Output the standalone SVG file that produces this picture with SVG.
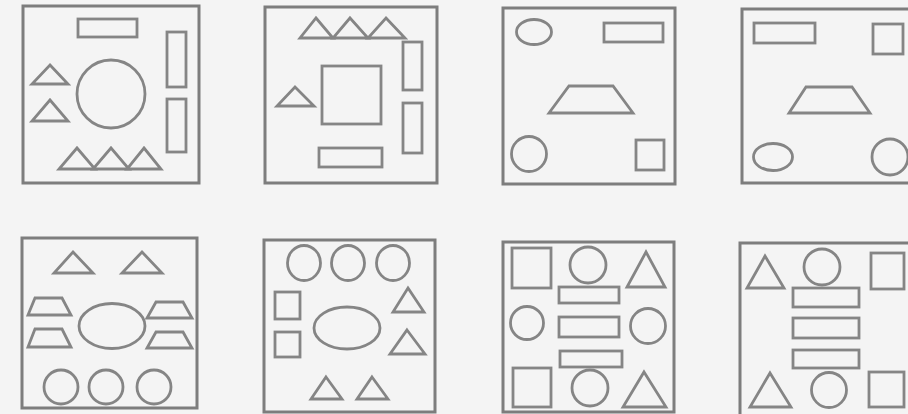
<svg xmlns="http://www.w3.org/2000/svg" width="908" height="414" viewBox="0 0 908 414">
<style>
.s{fill:none;stroke:#858585;stroke-width:2.8;stroke-linejoin:miter}
.f{fill:none;stroke:#7d7d7d;stroke-width:3}
</style>
<rect width="908" height="414" fill="#f4f4f4"/>
<g id="panel1" class="s">
<rect class="f" x="23" y="6" width="176" height="177"/>
<rect x="78" y="19" width="59" height="18"/>
<rect x="167" y="32" width="19" height="55"/>
<rect x="167" y="99" width="19" height="53"/>
<circle cx="111" cy="94" r="34"/>
<polygon points="50,65 68,84 32,84"/>
<polygon points="50,100 68,121 32,121"/>
<polygon points="77,148 95,169 59,169"/>
<polygon points="111,148 129,169 93,169"/>
<polygon points="144,148 161,169 127,169"/>
</g>
<g id="panel2" class="s">
<rect class="f" x="265" y="7" width="172" height="176"/>
<polygon points="316,18 333,38 300,38"/>
<polygon points="350,18 368,38 333,38"/>
<polygon points="386,18 405,38 368,38"/>
<rect x="403" y="42" width="19" height="48"/>
<rect x="403" y="103" width="19" height="50"/>
<rect x="322" y="66" width="59" height="58"/>
<polygon points="295,87 314,106 277,106"/>
<rect x="319" y="148" width="63" height="19"/>
</g>
<g id="panel3" class="s">
<rect class="f" x="503" y="8" width="172" height="176"/>
<ellipse cx="534" cy="32" rx="17.5" ry="12.5"/>
<rect x="604" y="23" width="59" height="19"/>
<polygon points="569,86 613,86 633,113 549,113"/>
<circle cx="529" cy="154" r="17.5"/>
<rect x="636" y="140" width="28" height="30"/>
</g>
<g id="panel4" class="s">
<rect class="f" x="742" y="9" width="172" height="174"/>
<rect x="754" y="23" width="61" height="20"/>
<rect x="873" y="24" width="30" height="30"/>
<polygon points="806,87 852,87 870,113 789,113"/>
<ellipse cx="773" cy="157" rx="19.5" ry="13.5"/>
<circle cx="890" cy="157" r="18"/>
</g>
<g id="panel5" class="s">
<rect class="f" x="22" y="238" width="175" height="170"/>
<polygon points="73,252 93,273 54,273"/>
<polygon points="142,252 162,273 122,273"/>
<polygon points="35,298 62,298 71,315 28,315"/>
<polygon points="35,329 62,329 71,347 28,347"/>
<polygon points="156,302 183,302 192,318 147,318"/>
<polygon points="156,332 183,332 192,348 147,348"/>
<ellipse cx="112" cy="326" rx="33" ry="22.5"/>
<circle cx="61" cy="387" r="17"/>
<circle cx="106" cy="387" r="17"/>
<circle cx="154" cy="387" r="17"/>
</g>
<g id="panel6" class="s">
<rect class="f" x="264" y="240" width="171" height="172"/>
<ellipse cx="304" cy="263" rx="16.5" ry="17.5"/>
<ellipse cx="348" cy="263" rx="16.5" ry="17.5"/>
<ellipse cx="393" cy="263" rx="16.5" ry="17.5"/>
<rect x="275" y="292" width="25" height="27"/>
<rect x="275" y="332" width="25" height="25"/>
<ellipse cx="347" cy="328" rx="33" ry="21"/>
<polygon points="408,288 424,312 393,312"/>
<polygon points="407,330 425,354 390,354"/>
<polygon points="326,377 342,399 311,399"/>
<polygon points="372,377 388,399 357,399"/>
</g>
<g id="panel7" class="s">
<rect class="f" x="503" y="242" width="171" height="170"/>
<rect x="512" y="248" width="39" height="40"/>
<circle cx="588" cy="265" r="18"/>
<polygon points="646,252 665,287 627,287"/>
<rect x="559" y="287" width="60" height="16"/>
<rect x="559" y="317" width="60" height="20"/>
<rect x="560" y="351" width="62" height="16"/>
<circle cx="527" cy="323" r="16.5"/>
<circle cx="648" cy="326" r="17.5"/>
<rect x="513" y="368" width="38" height="39"/>
<circle cx="590" cy="388" r="18"/>
<polygon points="644,372 666,407 623,407"/>
</g>
<g id="panel8" class="s">
<rect class="f" x="740" y="243" width="174" height="174"/>
<polygon points="765,256 784,288 747,288"/>
<circle cx="822" cy="267" r="18"/>
<rect x="871" y="253" width="33" height="36"/>
<rect x="793" y="288" width="66" height="19"/>
<rect x="793" y="318" width="66" height="20"/>
<rect x="793" y="350" width="66" height="18"/>
<polygon points="770,373 791,407 750,407"/>
<circle cx="829" cy="390" r="17.5"/>
<rect x="869" y="372" width="35" height="35"/>
</g>
</svg>
